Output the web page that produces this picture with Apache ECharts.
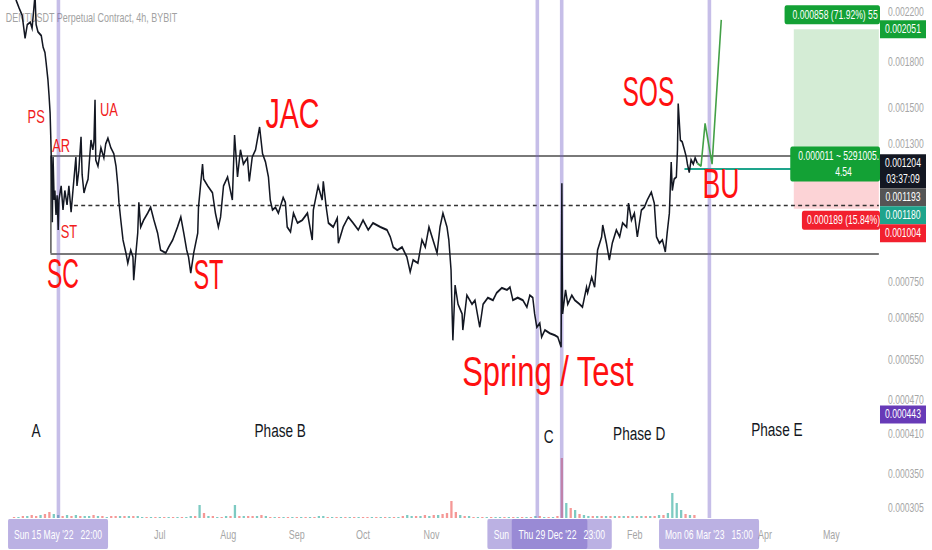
<!DOCTYPE html>
<html><head><meta charset="utf-8"><title>DENTUSDT Wyckoff</title>
<script src="https://cdn.jsdelivr.net/npm/echarts@6.0.0/dist/echarts.min.js"></script>
<style>
html,body{margin:0;padding:0;width:932px;height:550px;overflow:hidden;background:#fff}
#chart{width:1300px;height:550px;transform:scaleX(0.716923);transform-origin:0 0}
</style></head><body><div id="chart"></div>
<script>
const titleText = 'DENTUSDT Perpetual Contract, 4h, BYBIT';

const priceDates = [
'2022-04-26 00:00','2022-04-27 00:00','2022-04-28 08:00','2022-04-29 16:00','2022-05-01 00:00','2022-05-02 00:00','2022-05-03 08:00','2022-05-04 04:00','2022-05-05 12:00','2022-05-06 00:00',
'2022-05-06 20:00','2022-05-08 08:00','2022-05-09 04:00','2022-05-10 00:00','2022-05-10 12:00','2022-05-11 08:00','2022-05-11 20:00','2022-05-12 08:00','2022-05-12 16:00','2022-05-13 00:00',
'2022-05-13 08:00','2022-05-13 16:00','2022-05-14 04:00','2022-05-14 12:00','2022-05-15 00:00','2022-05-15 12:00','2022-05-16 00:00','2022-05-16 08:00','2022-05-17 08:00','2022-05-18 04:00',
'2022-05-19 00:00','2022-05-20 00:00','2022-05-20 20:00','2022-05-21 20:00','2022-05-22 16:00','2022-05-24 00:00','2022-05-24 12:00','2022-05-25 08:00','2022-05-26 08:00','2022-05-26 20:00',
'2022-05-27 16:00','2022-05-28 12:00','2022-05-29 12:00','2022-05-30 20:00','2022-05-31 16:00','2022-06-01 04:00','2022-06-01 16:00','2022-06-02 00:00','2022-06-03 00:00','2022-06-04 08:00',
'2022-06-05 16:00','2022-06-06 12:00','2022-06-07 12:00','2022-06-08 20:00','2022-06-10 04:00','2022-06-11 04:00','2022-06-12 00:00','2022-06-12 12:00','2022-06-13 08:00','2022-06-14 08:00',
'2022-06-15 16:00','2022-06-16 12:00','2022-06-17 20:00','2022-06-18 20:00','2022-06-19 04:00','2022-06-20 04:00','2022-06-21 00:00','2022-06-21 12:00','2022-06-22 08:00','2022-06-23 16:00',
'2022-06-25 12:00','2022-06-26 20:00','2022-06-28 08:00','2022-06-30 00:00','2022-07-01 08:00','2022-07-03 16:00','2022-07-05 00:00','2022-07-06 20:00','2022-07-09 00:00','2022-07-10 12:00',
'2022-07-11 20:00','2022-07-13 04:00','2022-07-14 00:00','2022-07-15 00:00','2022-07-16 08:00','2022-07-18 04:00','2022-07-18 12:00','2022-07-20 08:00','2022-07-20 20:00','2022-07-22 16:00',
'2022-07-24 20:00','2022-07-26 04:00','2022-07-27 12:00','2022-07-28 12:00','2022-07-29 20:00','2022-07-31 16:00','2022-08-02 20:00','2022-08-03 20:00','2022-08-05 04:00','2022-08-06 12:00',
'2022-08-07 20:00','2022-08-09 16:00','2022-08-10 12:00','2022-08-11 20:00','2022-08-13 08:00','2022-08-15 04:00','2022-08-16 12:00','2022-08-17 20:00','2022-08-19 04:00','2022-08-20 00:00',
'2022-08-21 00:00','2022-08-22 08:00','2022-08-23 16:00','2022-08-25 20:00','2022-08-26 20:00','2022-08-27 16:00','2022-08-29 04:00','2022-08-30 12:00','2022-09-01 08:00','2022-09-03 12:00',
'2022-09-05 20:00','2022-09-08 00:00','2022-09-08 12:00','2022-09-10 16:00','2022-09-12 12:00','2022-09-13 00:00','2022-09-14 08:00','2022-09-15 08:00','2022-09-17 12:00','2022-09-19 08:00',
'2022-09-19 20:00','2022-09-22 00:00','2022-09-24 08:00','2022-09-26 12:00','2022-09-28 20:00','2022-10-01 00:00','2022-10-03 08:00','2022-10-05 12:00','2022-10-08 20:00','2022-10-11 20:00',
'2022-10-13 08:00','2022-10-14 16:00','2022-10-16 12:00','2022-10-18 16:00','2022-10-20 20:00','2022-10-22 08:00','2022-10-23 16:00','2022-10-25 20:00','2022-10-27 16:00','2022-10-29 04:00',
'2022-10-30 20:00','2022-11-01 16:00','2022-11-03 12:00','2022-11-04 20:00','2022-11-06 04:00','2022-11-08 00:00','2022-11-08 20:00','2022-11-09 20:00','2022-11-10 04:00','2022-11-10 16:00',
'2022-11-11 16:00','2022-11-13 00:00','2022-11-14 20:00','2022-11-15 04:00','2022-11-17 00:00','2022-11-19 08:00','2022-11-20 16:00','2022-11-22 00:00','2022-11-22 20:00','2022-11-24 08:00',
'2022-11-26 12:00','2022-11-28 20:00','2022-11-30 12:00','2022-12-02 20:00','2022-12-05 04:00','2022-12-06 12:00','2022-12-07 20:00','2022-12-10 00:00','2022-12-12 08:00','2022-12-14 04:00',
'2022-12-15 12:00','2022-12-16 20:00','2022-12-17 16:00','2022-12-18 16:00','2022-12-20 00:00','2022-12-20 20:00','2022-12-22 08:00','2022-12-24 12:00','2022-12-26 20:00','2022-12-28 04:00',
'2022-12-29 16:00','2022-12-30 00:00','2022-12-30 04:00','2022-12-30 08:00','2022-12-31 16:00','2023-01-01 16:00','2023-01-03 12:00','2023-01-04 20:00','2023-01-07 00:00','2023-01-08 08:00',
'2023-01-10 04:00','2023-01-10 16:00','2023-01-12 12:00','2023-01-13 20:00','2023-01-15 04:00','2023-01-17 00:00','2023-01-17 12:00','2023-01-19 04:00','2023-01-20 12:00','2023-01-21 20:00',
'2023-01-23 16:00','2023-01-25 04:00','2023-01-26 12:00','2023-01-28 08:00','2023-01-29 04:00','2023-01-30 12:00','2023-01-31 20:00','2023-02-02 04:00','2023-02-04 00:00','2023-02-05 08:00',
'2023-02-06 16:00','2023-02-08 12:00','2023-02-09 20:00','2023-02-10 20:00','2023-02-12 04:00','2023-02-13 12:00','2023-02-14 20:00','2023-02-15 16:00','2023-02-16 16:00','2023-02-17 12:00',
'2023-02-18 00:00','2023-02-18 20:00','2023-02-19 20:00','2023-02-20 08:00','2023-02-20 16:00','2023-02-21 16:00','2023-02-22 12:00','2023-02-23 12:00','2023-02-24 08:00','2023-02-24 20:00',
'2023-02-25 16:00','2023-02-26 12:00','2023-02-27 12:00','2023-02-28 08:00','2023-03-01 08:00'
];
const priceValues = [
0.00240,0.00230,0.00223,0.00217,0.00198,0.00209,0.00211,0.00206,0.00235,0.00209,
0.00203,0.00200,0.00191,0.00187,0.00180,0.00168,0.00158,0.00147,0.00132,0.00117,
0.000952,0.001234,0.00104,0.00108,0.00098,0.00106,0.000923,0.00104,0.00110,0.00100,
0.00108,0.00102,0.00110,0.000991,0.00108,0.001234,0.00110,0.00117,0.001337,0.00115,
0.00107,0.00110,0.00113,0.00132,0.00127,0.00131,0.00155,0.00122,0.00119,0.00128,
0.00123,0.00130,0.00133,0.00128,0.00125,0.00119,0.00110,0.00103,0.00096,0.000887,
0.000842,0.000809,0.000852,0.000829,0.000756,0.000842,0.000912,0.00103,0.000934,0.00096,
0.000987,0.00101,0.00096,0.000912,0.000852,0.000842,0.000862,0.000887,0.000934,0.000972,
0.000912,0.000852,0.000829,0.000778,0.000842,0.000912,0.00101,0.00120,0.00113,0.00110,
0.00107,0.000987,0.000934,0.000972,0.00110,0.00114,0.00104,0.001347,0.00114,0.00127,
0.00120,0.00123,0.00112,0.001234,0.00127,0.00139,0.00125,0.00121,0.00114,0.00104,
0.00100,0.00101,0.000987,0.00105,0.00103,0.000934,0.000916,0.000987,0.000949,0.00096,
0.000987,0.000887,0.00100,0.00110,0.00104,0.00112,0.00101,0.000949,0.000934,0.000968,
0.000876,0.000934,0.000972,0.000949,0.000923,0.00096,0.000923,0.000949,0.000934,0.000923,
0.000898,0.000862,0.000852,0.000862,0.000829,0.000781,0.000819,0.000809,0.000887,0.000862,
0.000934,0.000887,0.000842,0.000934,0.000987,0.000934,0.000887,0.000787,0.000698,0.000595,
0.000741,0.000687,0.000661,0.000620,0.000712,0.000687,0.000698,0.000653,0.000627,0.000687,
0.000705,0.000698,0.000719,0.000733,0.000727,0.000735,0.000698,0.000705,0.000698,0.000679,
0.000712,0.000705,0.000661,0.000627,0.000637,0.000603,0.000620,0.000612,0.000607,0.000603,
0.000579,0.001112,0.000797,0.000661,0.000727,0.000687,0.000712,0.000698,0.000687,0.000679,
0.000735,0.000719,0.000765,0.000735,0.000852,0.000898,0.000941,0.000876,0.000819,0.000876,
0.000923,0.000898,0.000949,0.000934,0.001027,0.000960,0.000987,0.000898,0.000999,0.001010,
0.001040,0.001073,0.001027,0.000898,0.000876,0.000887,0.000846,0.000912,0.000987,0.001210,
0.001080,0.001130,0.001140,0.001270,0.001526,0.001320,0.001310,0.001270,0.001234,0.001200,
0.001160,0.001220,0.001200,0.001230,0.001204
];

const projectionDates = ['2023-03-01 08:00','2023-03-03 00:00','2023-03-04 20:00','2023-03-08 00:00','2023-03-12 04:00'];
const projectionValues = [0.001204,0.001190,0.001410,0.001200,0.002130];

const volumeStart = '2022-04-26 00:00';
const volumeStepDays = 2;
const volumeValues = [
1,1,2,2,3,2,3,4,6,4, 3,2,3,2,3,2,2,2,3,2, 2,1,2,2,2,2,2,2,2,1, 1,1,1,1,1,1,1,1,1,1,
2,2,13,5,2,2,1,1,2,2, 13,2,2,2,2,2,3,2,1,1, 1,1,1,1,1,1,1,1,1,2, 2,1,1,1,1,1,1,1,1,1,
1,1,1,1,1,1,1,1,2,3, 2,2,2,3,2,3,3,4,5,17, 6,3,2,2,1,1,1,1,1,1, 1,1,1,1,1,1,1,1,2,2,
1,1,1,2,60,15,10,8,4,3, 2,2,2,2,2,2,2,2,2,2, 2,2,2,2,2,2,3,3,5,25, 15,8,4,3,3
];
const volumeSides = 'rgrgrrgrrg'+'grgrgrggrg'+'rgrrgrgrgg'+'rgrgrgrgrg'+'grgrgrgrgr'+'grgrrgrgrg'+'rgrgrgrgrg'+'grgrgrgrgr'+
  'rgrgrgrgrg'+'grgrgrgrrr'+'rgrgrgrgrg'+'grgrgrgrgr'+'grgrrgrgrg'+'grgrgrgrgr'+'grgrgrgrgg'+'ggrgr';

const priceTicks = [0.002200,0.001800,0.001500,0.001300,0.000750,0.000650,0.000550,0.000470,0.000410,0.000350,0.000305];
const monthTickDates = ['2022-07-01 00:00','2022-08-01 00:00','2022-09-01 00:00','2022-10-01 00:00','2022-11-01 00:00','2023-02-01 00:00','2023-04-01 00:00','2023-05-01 00:00'];
const monthTickLabels = ['Jul','Aug','Sep','Oct','Nov','Feb','Apr','May'];

const eventDates = ['2022-05-15 22:00','2022-12-18 22:00','2022-12-29 23:00','2023-03-06 15:00'];
const eventLabels = ["Sun 15 May '22\u00a0\u00a0 22:00","Sun 18 Dec '22\u00a0\u00a0 22:00","Thu 29 Dec '22\u00a0\u00a0 23:00","Mon 06 Mar '23\u00a0\u00a0 15:00"];

// levels
const topLevel = 0.0022;
const rangeStart = '2022-05-12 12:00';
const rangeTop = 0.001238;
const rangeBottom = 0.000841;
const midStart = '2022-05-23 04:00';
const midLevel = 0.00102;
const baseLevel = 0.000443;
const lastPrice = 0.001204;
const tealStart = '2023-02-23 12:00';
const tealLevel = 0.00118;

// long position tool
const posStart = '2023-04-14 00:00';
const posCenter = '2023-05-06 12:00';
const posTarget = 0.002051, posEntry = 0.001193, posStop = 0.001004;
const posTargetText = '0.000858 (71.92%) 5525.4';
const posMidText = ['0.000011 ~ 5291005.29','4.54'];
const posStopText = '0.000189 (15.84%)';

// price badges on the scale
const badgeValues = [0.002051,0.001204,0.001193,0.001180,0.001004,0.000443];
const badgeTexts = ['0.002051','0.001204','0.001193','0.001180','0.001004','0.000443'];
const badgeSubs = ['','03:37:09','','','',''];
const badgeColors = ['#13a135','#131722','#555555','#1ea48c','#f2202e','#673ab7'];

// annotations
const annoTexts = ['PS','AR','UA','ST','SC','ST','JAC','SOS','BU','Spring / Test','A','Phase B','C','Phase D','Phase E'];
const annoDates = ['2022-05-06 00:00','2022-05-17 08:00','2022-06-08 00:00','2022-05-20 20:00','2022-05-18 04:00','2022-07-23 00:00','2022-08-30 00:00','2023-02-07 04:00','2023-03-12 00:00','2022-12-23 16:00','2022-05-06 00:00','2022-08-24 12:00','2022-12-24 00:00','2023-02-03 00:00','2023-04-06 08:00'];
const annoPrices = [0.001447,0.001290,0.001490,0.000916,0.000778,0.000775,0.001470,0.001600,0.001112,0.000524,0.000415,0.000415,0.000406,0.000411,0.000417];
const annoKinds = ['s','s','s','s','b','b','b','b','b','b','p','p','p','p','p'];
const annoFit = [0,0,0,0,32,30,54,52,37,172,0,0,0,0,0];

// ---------------------------------------------------------------
const FONT = '"Liberation Sans", Arial, Helvetica, sans-serif';
const W = 1300, SX = 932 / W;
const GRID_RIGHT = 52 / SX;
const X_MIN = '2022-04-20 04:00', X_MAX = '2023-05-22 12:00';
const Y_MIN = 0.0002934, Y_MAX = 0.002305;

function ts(s) {
  const [d, t] = s.split(' ');
  const [Y, M, D] = d.split('-').map(Number);
  const [h, m] = (t || '00:00').split(':').map(Number);
  return new Date(Y, M - 1, D, h, m).getTime();
}

const priceData = priceDates.map((d, i) => [ts(d), priceValues[i]]);
const projData = projectionDates.map((d, i) => [ts(d), projectionValues[i]]);
const volStartTs = ts(volumeStart);
const volData = volumeValues.map((v, i) => ({
  value: [volStartTs + i * volumeStepDays * 86400000, v],
  itemStyle: { color: volumeSides[i] === 'g' ? 'rgba(38,166,154,0.6)' : 'rgba(239,83,80,0.6)' }
}));

const gray = '#4d4d4d';
const option = {
  animation: false,
  backgroundColor: '#ffffff',
  textStyle: { fontFamily: FONT },
  title: {
    text: titleText, left: 8, top: 11, padding: 0, z: 1,
    textStyle: { fontSize: 12.5, fontWeight: 'normal', color: '#a2a2a2', fontFamily: FONT }
  },
  grid: { left: 0, right: GRID_RIGHT, top: 0, bottom: 32 },
  xAxis: {
    type: 'time', min: ts(X_MIN), max: ts(X_MAX),
    axisLine: { show: false }, axisTick: { show: false }, splitLine: { show: false },
    axisLabel: { show: false }
  },
  yAxis: [
    { type: 'log', logBase: 10, min: Y_MIN, max: Y_MAX, position: 'right',
      axisLine: { show: false }, axisTick: { show: false }, splitLine: { show: false }, axisLabel: { show: false } },
    { type: 'value', min: 0, max: 518, show: false }
  ],
  series: [
    { type: 'bar', name: 'Volume', yAxisIndex: 1, data: volData, barWidth: 3.2, silent: true, z: 1 },
    {
      type: 'line', name: 'levels', data: [], silent: true, z: 3,
      markLine: {
        symbol: ['none', 'none'], silent: true, animation: false,
        label: { show: false },
        data: [
          { yAxis: topLevel, lineStyle: { color: gray, width: 1.6, type: 'solid' } },
          { yAxis: baseLevel, lineStyle: { color: '#7e62c8', width: 1.6, type: 'solid' } },
          { yAxis: lastPrice, lineStyle: { color: 'rgba(242,54,69,0.75)', width: 1, type: [1.4, 2.8] } },
          [{ coord: [ts(rangeStart), rangeTop], lineStyle: { color: gray, width: 1.6, type: 'solid' } }, { coord: [ts(X_MAX), rangeTop] }],
          [{ coord: [ts(rangeStart), rangeBottom], lineStyle: { color: gray, width: 1.6, type: 'solid' } }, { coord: [ts(X_MAX), rangeBottom] }],
          [{ coord: [ts(rangeStart), rangeTop], lineStyle: { color: gray, width: 2, type: 'solid' } }, { coord: [ts(rangeStart), rangeBottom] }],
          [{ coord: [ts(midStart), midLevel], lineStyle: { color: '#333', width: 1.4, type: [5.5, 4.5] } }, { coord: [ts(X_MAX), midLevel] }],
          [{ coord: [ts(tealStart), tealLevel], lineStyle: { color: '#1ea48c', width: 2, type: 'solid' } }, { coord: [ts(X_MAX), tealLevel] }]
        ].concat(eventDates.map(d => ({ xAxis: ts(d), lineStyle: { color: 'rgba(120,100,200,0.42)', width: 5, type: 'solid' } })))
      },
      markArea: {
        silent: true,
        data: [
          [{ coord: [ts(posStart), posTarget], itemStyle: { color: 'rgba(76,175,80,0.24)' } }, { coord: [ts(X_MAX), posEntry] }],
          [{ coord: [ts(posStart), posEntry], itemStyle: { color: 'rgba(242,54,69,0.22)' } }, { coord: [ts(X_MAX), posStop] }]
        ]
      }
    },
    { type: 'line', name: 'Price', data: priceData, symbol: 'none', showSymbol: false, z: 5,
      lineStyle: { color: '#131722', width: 2.1, join: 'miter' } },
    { type: 'line', name: 'Projection', data: projData, symbol: 'none', showSymbol: false, z: 6,
      lineStyle: { color: '#43a047', width: 2.2 } }
  ]
};

const chart = echarts.init(document.getElementById('chart'), null, { renderer: 'svg', width: W, height: 550 });
chart.setOption(option);

// ----- overlays positioned through the chart's own scales -----
const gx = W - GRID_RIGHT;
const measure = document.createElement('canvas').getContext('2d');
function tw(text, font) { measure.font = font; return measure.measureText(text).width; }
function txt(x, y, text, font, fill, extra) {
  return Object.assign({ type: 'text', x: x, y: y, silent: true, z: 50,
    style: { text: text, font: font, fill: fill, align: 'center', verticalAlign: 'middle', textAlign: 'center', textVerticalAlign: 'middle' } }, extra || {});
}
const els = [];

// price scale ticks
priceTicks.forEach(v => {
  const y = chart.convertToPixel({ yAxisIndex: 0 }, v);
  els.push({ type: 'text', x: gx + 8 / SX, y: y, silent: true, z: 40,
    style: { text: v.toFixed(6), font: '12px ' + FONT, fill: '#a6a6a6', align: 'left', verticalAlign: 'middle', textAlign: 'left', textVerticalAlign: 'middle' } });
});

// time scale month labels
monthTickDates.forEach((d, i) => {
  const x = chart.convertToPixel({ xAxisIndex: 0 }, ts(d));
  els.push(txt(x, 534, monthTickLabels[i], '12.5px ' + FONT, '#a6a6a6', { z: 40 }));
});

// annotations
annoTexts.forEach((t, i) => {
  const p = chart.convertToPixel({ gridIndex: 0 }, [ts(annoDates[i]), annoPrices[i]]);
  const kind = annoKinds[i];
  const size = kind === 'b' ? 42 : (kind === 's' ? 18 : 19);
  const color = kind === 'p' ? '#131722' : (kind === 'b' ? '#ff1010' : '#f01c1c');
  const font = size + 'px ' + FONT;
  let sx = 1;
  if (annoFit[i]) sx = (annoFit[i] / SX) / tw(t, font);
  els.push(txt(p[0], p[1], t, font, color, { scaleX: sx, z: 45 }));
});

// event date tags under vertical lines (a later tag covers the one before it)
(function () {
  const w = 100 / SX;
  const f = '12px ' + FONT;
  const xs = eventDates.map(d => chart.convertToPixel({ xAxisIndex: 0 }, ts(d)));
  eventDates.forEach((d, i) => {
    const x = xs[i];
    els.push({ type: 'rect', silent: true, z: 55 + 2 * i, shape: { x: x - w / 2, y: 519, width: w, height: 30, r: 2 }, style: { fill: 'rgba(120,100,200,0.5)' } });
    const lw = tw(eventLabels[i], f);
    const left = x - lw / 2;
    let avail = lw + 4;
    if (i + 1 < xs.length && xs[i + 1] - w / 2 < left + lw) avail = Math.max(1, xs[i + 1] - w / 2 - left);
    els.push({ type: 'text', silent: true, z: 56 + 2 * i, x: left, y: 534.5,
      style: { text: eventLabels[i], font: f, fill: '#ffffff', align: 'left', verticalAlign: 'middle', textAlign: 'left', textVerticalAlign: 'middle',
        width: avail, overflow: 'truncate', ellipsis: '' } });
  });
})();

// position tool labels
(function () {
  const cx = chart.convertToPixel({ xAxisIndex: 0 }, ts(posCenter));
  const yT = chart.convertToPixel({ yAxisIndex: 0 }, posTarget);
  const yE = chart.convertToPixel({ yAxisIndex: 0 }, posEntry);
  const yS = chart.convertToPixel({ yAxisIndex: 0 }, posStop);
  const f = '12px ' + FONT;
  function box(lines, top, h, fill, padReal, clip) {
    const pad = padReal / SX;
    const wText = Math.max.apply(null, lines.map(l => tw(l, f)));
    const w = wText + 2 * pad;
    const left = cx - w / 2;
    els.push({ type: 'rect', silent: true, z: 30, shape: { x: left, y: top, width: Math.min(w, gx - left), height: h, r: 3 }, style: { fill: fill } });
    lines.forEach((l, k) => {
      const lw = tw(l, f);
      const lx = cx - lw / 2;
      const yy = lines.length === 1 ? top + h / 2 : top + 9 + k * 16;
      const st = { text: l, font: f, fill: '#fff', align: 'left', verticalAlign: 'middle', textAlign: 'left', textVerticalAlign: 'middle' };
      if (clip) { st.width = Math.max(1, gx - lx); st.overflow = 'truncate'; st.ellipsis = ''; }
      els.push({ type: 'text', silent: true, z: 31, x: lx, y: yy, style: st });
    });
  }
  box([posTargetText], yT - 24, 19, '#13a135', 8, true);
  box(posMidText, yE - 19, 35, '#13a135', 8, true);
  box([posStopText], yS + 2, 19, '#f2202e', 5, false);
})();

// price badges with collision stacking
(function () {
  const items = badgeValues.map((v, i) => ({ y: chart.convertToPixel({ yAxisIndex: 0 }, v), text: badgeTexts[i], sub: badgeSubs[i], color: badgeColors[i] }))
    .sort((a, b) => a.y - b.y);
  let prev = -Infinity;
  const bw = 46 / SX;
  items.forEach(b => {
    const h = b.sub ? 34 : 18;
    const top = Math.max(b.y - 9, prev);
    prev = top + h;
    els.push({ type: 'rect', silent: true, z: 60, shape: { x: gx, y: top, width: bw, height: h }, style: { fill: b.color } });
    els.push(txt(gx + bw / 2, top + 9, b.text, '12px ' + FONT, '#ffffff', { z: 61 }));
    if (b.sub) els.push(txt(gx + bw / 2, top + 25, b.sub, '12px ' + FONT, '#ffffff', { z: 61 }));
  });
})();

chart.setOption({ graphic: { elements: els } });
</script></body></html>
